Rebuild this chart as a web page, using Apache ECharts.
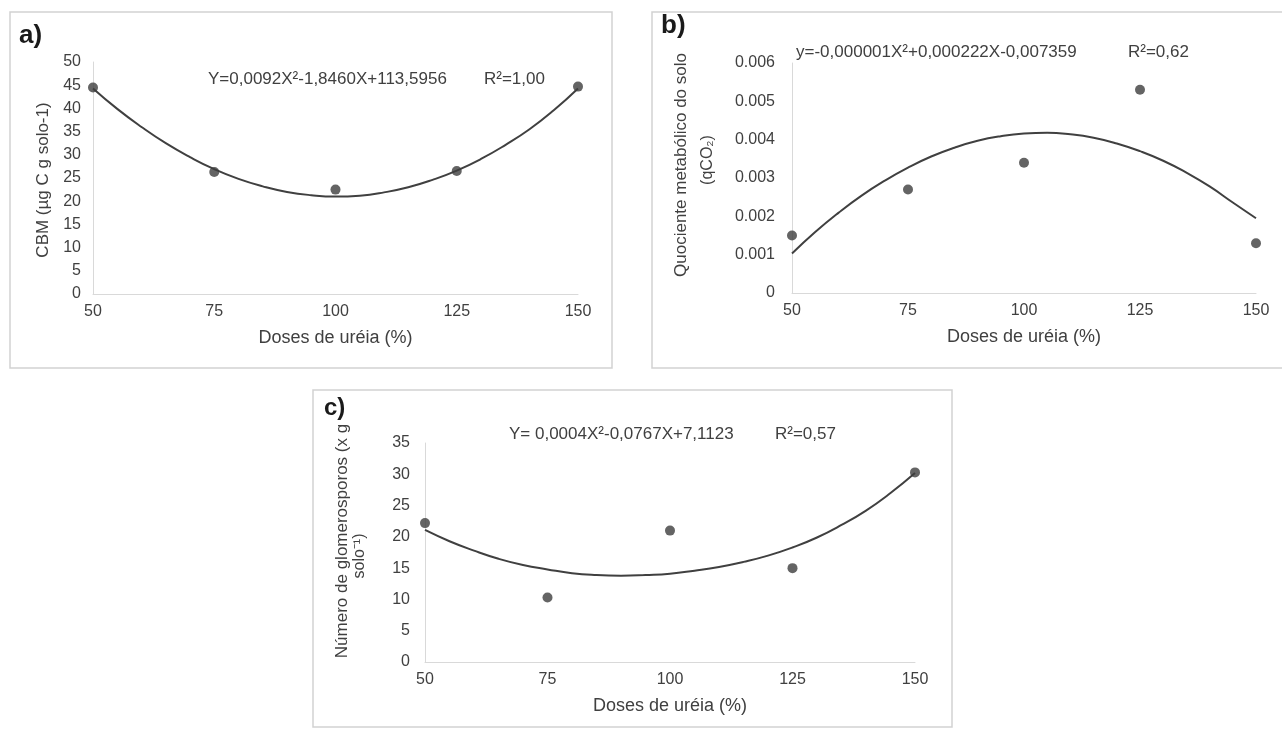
<!DOCTYPE html>
<html>
<head>
<meta charset="utf-8">
<script src="https://cdn.jsdelivr.net/npm/echarts@6/dist/echarts.min.js"></script>
<style>
html,body{margin:0;padding:0;background:#fff;}
#c{width:1282px;height:731px;}
</style>
</head>
<body>
<div id="c"></div>
<script>
// ---- data ----
const doses = [50, 75, 100, 125, 150];
const xTicks = [50, 75, 100, 125, 150];
const cbm = [44.5, 26.3, 22.5, 26.5, 44.7];
const qco2 = [0.0015, 0.0027, 0.0034, 0.0053, 0.0013];
const glomero = [22.2, 10.3, 21.0, 15.0, 30.3];
// fitted trend curves
const curveX = [50, 55, 60, 65, 70, 75, 80, 85, 90, 95, 100, 105, 110, 115, 120, 125, 130, 135, 140, 145, 150];
const cbmFit = [44.3, 39.9, 36.0, 32.5, 29.5, 26.9, 24.8, 23.2, 22.0, 21.3, 21.0, 21.2, 21.9, 23.0, 24.6, 26.6, 29.1, 32.1, 35.5, 39.6, 44.3];
const qco2Fit = [0.00103, 0.00159, 0.00209, 0.00254, 0.00293, 0.00327, 0.00356, 0.00379, 0.00397, 0.00409, 0.00416, 0.00418, 0.00414, 0.00405, 0.00390, 0.00370, 0.00345, 0.00314, 0.00278, 0.00236, 0.00195];
const glomeroFit = [21.1, 19.3, 17.8, 16.5, 15.5, 14.8, 14.2, 13.9, 13.8, 13.9, 14.1, 14.6, 15.2, 16.0, 17.0, 18.3, 19.9, 21.9, 24.2, 27.0, 30.2];

const eqA = 'Y=0,0092X²-1,8460X+113,5956', r2A = 'R²=1,00';
const eqB = 'y=-0,000001X²+0,000222X-0,007359', r2B = 'R²=0,62';
const eqC = 'Y= 0,0004X²-0,0767X+7,1123', r2C = 'R²=0,57';
const xTitle = 'Doses de uréia (%)';

const FONT = '"Liberation Sans", Arial, sans-serif';
const TXT = '#404040';
const AX = '#d9d9d9';
const DOT = '#3d3d3d';

const pairs = (xs, ys) => xs.map((x, i) => [x, ys[i]]);

function xAxis(gi) {
  return {
    type: 'value', gridIndex: gi, min: 50, max: 150, interval: 25,
    axisLine: {show: true, lineStyle: {color: AX, width: 1}},
    axisTick: {show: false}, splitLine: {show: false},
    axisLabel: {color: TXT, fontFamily: FONT, fontSize: 16, margin: 10},
    name: xTitle, nameLocation: 'middle', nameGap: 35,
    nameTextStyle: {color: TXT, fontFamily: FONT, fontSize: 18}
  };
}
function yAxis(gi, max, interval, margin, fmt) {
  return {
    type: 'value', gridIndex: gi, min: 0, max: max, interval: interval,
    axisLine: {show: true, lineStyle: {color: AX, width: 1}},
    axisTick: {show: false}, splitLine: {show: false},
    axisLabel: {color: TXT, fontFamily: FONT, fontSize: 16, margin: margin, formatter: fmt}
  };
}
function scatter(gi, ys) {
  return {type: 'scatter', xAxisIndex: gi, yAxisIndex: gi, data: pairs(doses, ys),
    symbol: 'circle', symbolSize: 10, itemStyle: {color: DOT}, z: 3};
}
function curve(gi, ys) {
  return {type: 'line', xAxisIndex: gi, yAxisIndex: gi, data: pairs(curveX, ys),
    smooth: true, showSymbol: false, lineStyle: {color: '#404040', width: 2}, z: 2};
}
function txt(x, y, s, opt) {
  return {type: 'text', x: x, y: y,
    style: Object.assign({text: s, fill: TXT, font: '17px ' + FONT, textAlign: 'left', textVerticalAlign: 'middle'}, opt || {})};
}
function vtxt(x, y, s, size) {
  return {type: 'text', x: x, y: y, rotation: Math.PI / 2,
    style: {text: s, fill: TXT, font: (size || 17) + 'px ' + FONT, textAlign: 'center', textVerticalAlign: 'middle'}};
}
function box(x, y, w, h) {
  return {type: 'rect', shape: {x: x, y: y, width: w, height: h},
    style: {fill: 'none', stroke: '#d2d2d2', lineWidth: 1.5}, z: -1};
}

const chart = echarts.init(document.getElementById('c'), null, {renderer: 'canvas'});
chart.setOption({
  backgroundColor: '#fff',
  animation: false,
  grid: [
    {left: 93, top: 62, width: 485, height: 232},
    {left: 792, top: 63, width: 464, height: 230},
    {left: 425, top: 443, width: 490, height: 219}
  ],
  xAxis: [xAxis(0), xAxis(1), xAxis(2)],
  yAxis: [
    yAxis(0, 50, 5, 12),
    yAxis(1, 0.006, 0.001, 17, v => v === 0 ? '0' : v.toFixed(3)),
    yAxis(2, 35, 5, 15)
  ],
  series: [
    curve(0, cbmFit), scatter(0, cbm),
    curve(1, qco2Fit), scatter(1, qco2),
    curve(2, glomeroFit), scatter(2, glomero)
  ],
  graphic: [
    box(10, 12, 602, 356),
    box(652, 12, 640, 356),
    box(313, 390, 639, 337),
    txt(19, 36, 'a)', {font: 'bold 26px ' + FONT, fill: '#1a1a1a'}),
    txt(661, 26, 'b)', {font: 'bold 26px ' + FONT, fill: '#1a1a1a'}),
    txt(324, 408, 'c)', {font: 'bold 24px ' + FONT, fill: '#1a1a1a'}),
    txt(208, 79, eqA), txt(484, 79, r2A),
    txt(796, 52, eqB), txt(1128, 52, r2B),
    txt(509, 434, eqC), txt(775, 434, r2C),
    vtxt(43, 180, 'CBM (µg C g solo-1)'),
    vtxt(681, 165, 'Quociente metabólico do solo'),
    vtxt(708, 160, '(qCO₂)', 16),
    vtxt(342, 541, 'Número de glomerosporos (x g'),
    vtxt(360, 556, 'solo⁻¹)', 16)
  ]
});
</script>
</body>
</html>
